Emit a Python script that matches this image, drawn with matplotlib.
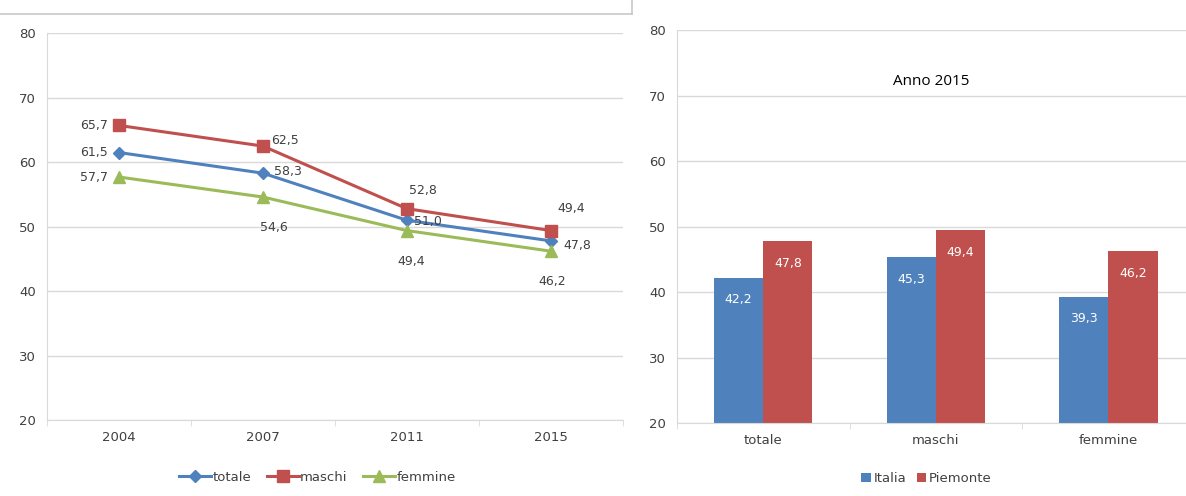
import matplotlib.pyplot as plt
import numpy as np
from matplotlib.lines import Line2D

C_BLUE, C_RED, C_GREEN = '#4f81bd', '#c0504d', '#9bbb59'
C_TXT, C_GRID = '#404040', '#d9d9d9'

plt.rcParams.update({
    'font.family': ['DejaVu Sans'],
    'font.size': 9,
    'text.color': C_TXT,
    'axes.edgecolor': C_GRID,
    'xtick.color': C_GRID,
    'ytick.color': C_GRID,
    'xtick.labelcolor': C_TXT,
    'ytick.labelcolor': C_TXT,
})

# left chart: trend
years = ['2004', '2007', '2011', '2015']
totale = [61.5, 58.3, 51.0, 47.8]
maschi = [65.7, 62.5, 52.8, 49.4]
femmine = [57.7, 54.6, 49.4, 46.2]

# right chart: 2015 comparison
groups = ['totale', 'maschi', 'femmine']
italia = [42.2, 45.3, 39.3]
piemonte = [47.8, 49.4, 46.2]

def lab(v):
    return f'{v:.1f}'.replace('.', ',')

fig = plt.figure(figsize=(11.86, 4.96), dpi=100)

def style(ax):
    ax.set_ylim(20, 80)
    ax.set_yticks(range(20, 81, 10))
    ax.grid(axis='y', color=C_GRID, lw=1)
    ax.set_axisbelow(True)
    for s in ['top', 'right']:
        ax.spines[s].set_visible(False)
    ax.tick_params(axis='y', length=0, labelsize=9.5, pad=8)
    ax.tick_params(axis='x', length=0, labelsize=9.5, pad=8)

# ── left panel ──
ax1 = fig.add_axes([0.0396, 0.153, 0.4854, 0.78])
x = np.arange(len(years))
ax1.plot(x, totale, color=C_BLUE, lw=2.2, marker='D', ms=6, label='totale')
ax1.plot(x, maschi, color=C_RED, lw=2.2, marker='s', ms=8, label='maschi')
ax1.plot(x, femmine, color=C_GREEN, lw=2.2, marker='^', ms=8, label='femmine')
ax1.set_xlim(-0.5, 3.5)
ax1.set_xticks(x)
ax1.set_xticklabels(years)
ax1.set_xticks(np.arange(-0.5, 3.6, 1), minor=True)
ax1.tick_params(axis='x', which='minor', length=4, color=C_GRID)
style(ax1)

# data label offsets (points)
offs_t = [(-8, 0, 'right'), (8, 1, 'left'), (5, -1, 'left'), (9, -3, 'left')]
offs_m = [(-8, 0, 'right'), (6, 4, 'left'), (12, 13, 'center'), (15, 16, 'center')]
offs_f = [(-8, 0, 'right'), (8, -22, 'center'), (3, -22, 'center'), (1, -22, 'center')]
for vals, offs in [(totale, offs_t), (maschi, offs_m), (femmine, offs_f)]:
    for i, v in enumerate(vals):
        dx, dy, ha = offs[i]
        ax1.annotate(lab(v), (i, v), xytext=(dx, dy),
                     textcoords='offset points', ha=ha, va='center', fontsize=9)

ax1.legend(loc='upper center', bbox_to_anchor=(0.47, -0.1), ncol=3, frameon=False,
           fontsize=9.5, handlelength=2.4, columnspacing=1.2, handletextpad=0.1)

# ── right panel ──
ax2 = fig.add_axes([0.5708, 0.147, 0.4292, 0.7925])
xg = np.arange(len(groups))
w = 0.285
b1 = ax2.bar(xg - w / 2, italia, w, color=C_BLUE, label='Italia')
b2 = ax2.bar(xg + w / 2, piemonte, w, color=C_RED, label='Piemonte')
for bars, vals in [(b1, italia), (b2, piemonte)]:
    for b, v in zip(bars, vals):
        ax2.annotate(lab(v), (b.get_x() + b.get_width() / 2, v), xytext=(0, -16),
                     textcoords='offset points', ha='center', va='center',
                     color='white', fontsize=9)
ax2.set_xlim(-0.5, 2.45)
ax2.set_xticks(xg)
ax2.set_xticklabels(groups)
ax2.set_xticks([-0.5, 0.5, 1.5], minor=True)
ax2.tick_params(axis='x', which='minor', length=4, color=C_GRID)
style(ax2)
ax2.text(0.5, 0.87, 'Anno 2015', transform=ax2.transAxes, ha='center', va='center',
         fontsize=11, color='black', family=['Open Sans', 'DejaVu Sans'])
ax2.legend(loc='upper center', bbox_to_anchor=(0.49, -0.095), ncol=2, frameon=False,
           fontsize=9.5, handlelength=0.7, handleheight=0.7, columnspacing=0.8,
           handletextpad=0.2)

# frame line of the original report box
fig.add_artist(Line2D([0, 632 / 1186], [1 - 14 / 496, 1 - 14 / 496], color='#c8c8c8', lw=1.2))
fig.add_artist(Line2D([632 / 1186, 632 / 1186], [1 - 14 / 496, 1], color='#c8c8c8', lw=1.2))

fig.savefig('out.png', dpi=100)
